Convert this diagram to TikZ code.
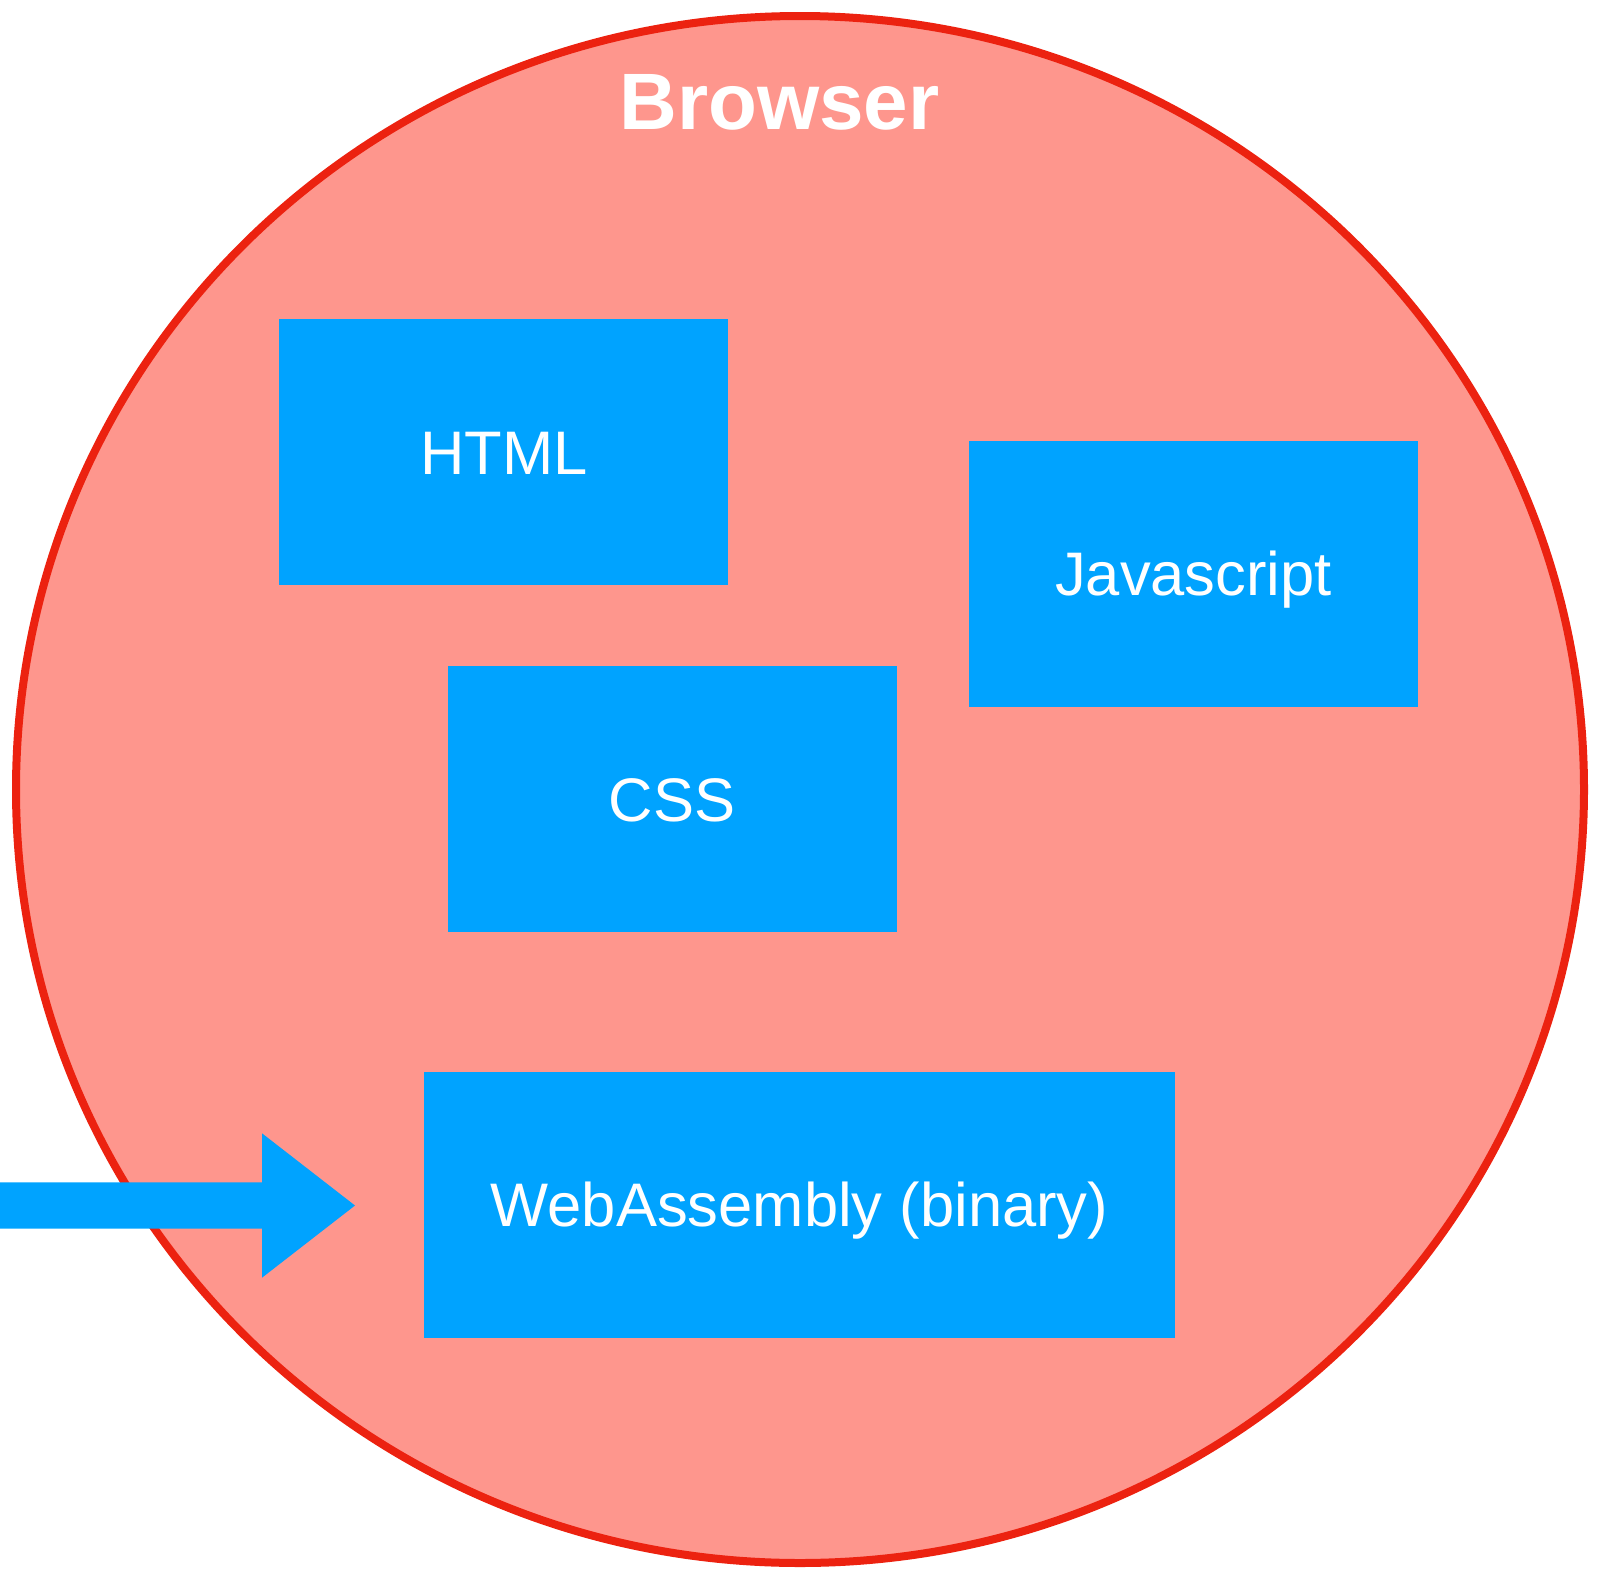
\documentclass[tikz,border=0pt]{standalone}
\usepackage{fontspec}
\setmainfont{Liberation Sans}
\definecolor{salmon}{RGB}{254,150,141}
\definecolor{ringred}{RGB}{236,34,16}
\definecolor{boxblue}{RGB}{0,163,255}
\begin{document}
\begin{tikzpicture}[x=1pt,y=-1pt,
  block/.style={fill=boxblue, draw=none, text=white, inner sep=0pt,
    minimum height=266pt, text height=44pt, text depth=0pt,
    font=\fontsize{61.5}{64}\selectfont},
  smallblock/.style={block, minimum width=449pt},
  wideblock/.style={block, minimum width=750.5pt}]
\useasboundingbox (0,0) rectangle (1599,1569);
\draw[fill=salmon, draw=ringred, line width=8pt] (800,789.5) ellipse [x radius=784, y radius=773.5];
\node[text=white, font=\bfseries\fontsize{80}{84}\selectfont, anchor=base] (title) at (779.5,129.5) {Browser};
\node[smallblock] (html) at (503.8,452.3) {HTML};
\node[smallblock] (js) at (1193.5,573.8) {Javascript};
\node[smallblock] (css) at (672,799) {CSS};
\node[wideblock] (wasm) at (799.5,1204.8) {WebAssembly (binary)};
\coordinate (src) at (0,1205.5);
\coordinate (tip) at (355,1205.5);
\fill[boxblue] (src) ++(0,-23.2) -- (262,1182.3) -- (262,1133.3) -- (tip) -- (262,1277.7) -- (262,1228.7) -- (0,1228.7) -- cycle;
\end{tikzpicture}
\end{document}
